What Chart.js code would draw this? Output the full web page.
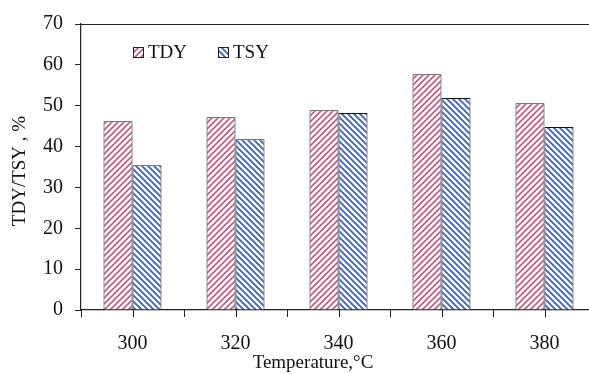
<!DOCTYPE html>
<html>
<head>
<meta charset="utf-8">
<script src="https://cdn.jsdelivr.net/npm/chart.js@4/dist/chart.umd.min.js"></script>
<style>
    html, body { margin: 0; padding: 0; background: #fff; }
    #wrap { width: 589px; height: 374px; overflow: hidden; }
</style>
</head>
<body>
<div id="wrap">
    <canvas id="chart" width="600" height="374"></canvas>
</div>
<script>
// Données
const temperatures = ['300', '320', '340', '360', '380'];
const tdyValues = [46.2, 47.2, 48.9, 57.7, 50.6];
const tsyValues = [35.4, 41.8, 48.2, 51.9, 44.8];
const yTitle = 'TDY/TSY , %';
const xTitle = 'Temperature,\u00B0C';

const FONT = '"Liberation Serif", "Times New Roman", serif';

/**
 * Crée un motif de hachures diagonales
 */
function makeHatch(color, rising, width) {
    const size = 6;
    const c = document.createElement('canvas');
    c.width = size;
    c.height = size;
    const g = c.getContext('2d');
    g.fillStyle = '#ffffff';
    g.fillRect(0, 0, size, size);
    g.strokeStyle = color;
    g.lineWidth = width;
    g.beginPath();
    if (rising) {
        g.moveTo(-1, size + 1); g.lineTo(size + 1, -1);
        g.moveTo(-1, 1); g.lineTo(1, -1);
        g.moveTo(size - 1, size + 1); g.lineTo(size + 1, size - 1);
    } else {
        g.moveTo(-1, -1); g.lineTo(size + 1, size + 1);
        g.moveTo(size - 1, -1); g.lineTo(size + 1, 1);
        g.moveTo(-1, size - 1); g.lineTo(1, size + 1);
    }
    g.stroke();
    return g.createPattern(c, 'repeat');
}

const tdyPattern = makeHatch('#bc5a84', true, 1.6);
const tsyPattern = makeHatch('#4264b2', false, 1.9);

// Cadre, graduations, titres et légende
const decorPlugin = {
    id: 'decor',
    afterDraw(chart) {
        const ctx = chart.ctx;
        const area = chart.chartArea;
        const xs = chart.scales.x;
        ctx.save();
        ctx.strokeStyle = '#222';
        ctx.lineWidth = 1.2;

        // ligne du haut
        ctx.beginPath();
        ctx.moveTo(area.left, area.top + 0.5);
        ctx.lineTo(chart.width, area.top + 0.5);
        ctx.stroke();

        // graduations de l'axe X (centres et séparations)
        ctx.lineWidth = 1;
        ctx.beginPath();
        for (let i = 0; i <= temperatures.length; i++) {
            const xb = Math.round(xs.getPixelForValue(i - 0.5)) + 0.5;
            ctx.moveTo(xb, area.bottom);
            ctx.lineTo(xb, area.bottom + 7);
            if (i < temperatures.length) {
                const xc = Math.round(xs.getPixelForValue(i)) + 0.5;
                ctx.moveTo(xc, area.bottom);
                ctx.lineTo(xc, area.bottom + 7);
            }
        }
        ctx.stroke();

        // titres des axes
        ctx.fillStyle = '#111';
        ctx.font = '19px ' + FONT;
        ctx.textAlign = 'center';
        ctx.textBaseline = 'middle';
        ctx.fillText(xTitle, 313, 363);
        ctx.save();
        ctx.translate(20, 171);
        ctx.rotate(-Math.PI / 2);
        ctx.fillText(yTitle, 0, 0);
        ctx.restore();

        // légende
        ctx.textAlign = 'left';
        const items = chart.data.datasets;
        const starts = [133, 218];
        items.forEach((ds, i) => {
            const bx = starts[i];
            const by = 47;
            ctx.fillStyle = ds.backgroundColor;
            ctx.fillRect(bx, by, 11, 11);
            ctx.strokeStyle = '#222';
            ctx.strokeRect(bx + 0.5, by + 0.5, 10, 10);
            ctx.fillStyle = '#111';
            ctx.fillText(ds.label, bx + 15, by + 6);
        });
        ctx.restore();
    }
};

new Chart(document.getElementById('chart'), {
    type: 'bar',
    data: {
        labels: temperatures,
        datasets: [
            {
                label: 'TDY',
                data: tdyValues,
                backgroundColor: tdyPattern,
                borderColor: '#111',
                borderWidth: 1
            },
            {
                label: 'TSY',
                data: tsyValues,
                backgroundColor: tsyPattern,
                borderColor: '#111',
                borderWidth: 1
            }
        ]
    },
    options: {
        responsive: false,
        animation: false,
        layout: { padding: { top: 21, right: 4, left: 0, bottom: 0 } },
        datasets: {
            bar: { categoryPercentage: 0.563, barPercentage: 1.0 }
        },
        plugins: {
            legend: { display: false },
            tooltip: { enabled: false }
        },
        scales: {
            x: {
                grid: { display: false, drawTicks: false },
                border: { display: true, color: '#222', width: 1.2 },
                ticks: {
                    color: '#111',
                    padding: 22,
                    font: { family: FONT, size: 20 }
                },
                afterFit: (scale) => { scale.height = 64; }
            },
            y: {
                min: 0,
                max: 70,
                ticks: {
                    stepSize: 10,
                    color: '#111',
                    padding: 12,
                    font: { family: FONT, size: 20 }
                },
                grid: {
                    display: true,
                    drawOnChartArea: false,
                    drawTicks: true,
                    tickLength: 6,
                    color: '#222'
                },
                border: { display: true, color: '#222', width: 1.2 },
                afterFit: (scale) => { scale.width = 81; }
            }
        }
    },
    plugins: [decorPlugin]
});
</script>
</body>
</html>
